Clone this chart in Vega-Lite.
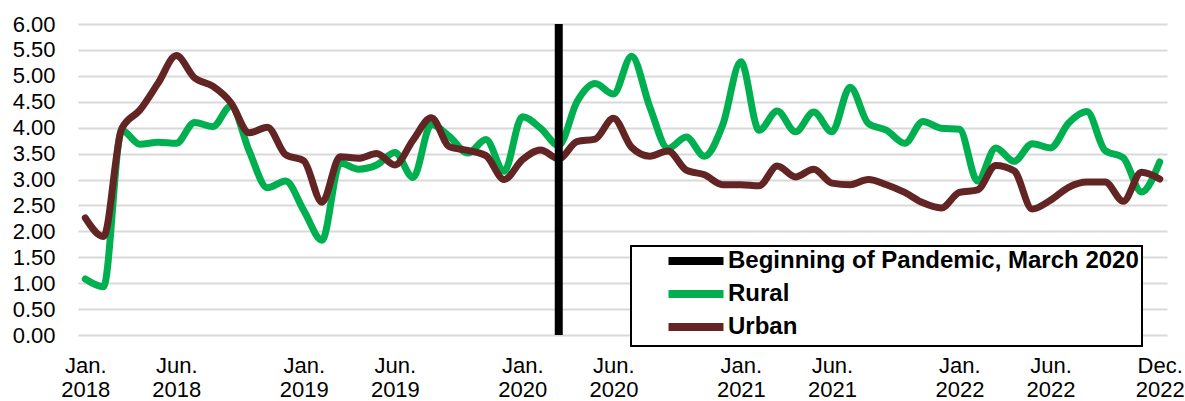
{
  "$schema": "https://vega.github.io/schema/vega-lite/v6.json",
  "width": 1089,
  "height": 311,
  "autosize": "none",
  "padding": {"left": 78, "top": 24, "right": 18, "bottom": 66},
  "background": "white",
  "config": {
    "font": "Liberation Sans",
    "view": {"stroke": null},
    "axis": {"labelFont": "Liberation Sans", "labelColor": "black", "labelFontSize": 22, "ticks": false, "domain": false},
    "legend": {"labelFont": "Liberation Sans"}
  },
  "datasets": {
    "series": [
      {"month": "2018-01", "Rural": 1.08, "Urban": 2.26},
      {"month": "2018-02", "Rural": 0.93, "Urban": 1.90},
      {"month": "2018-03", "Rural": 3.95, "Urban": 3.98},
      {"month": "2018-04", "Rural": 3.68, "Urban": 4.34},
      {"month": "2018-05", "Rural": 3.72, "Urban": 4.86},
      {"month": "2018-06", "Rural": 3.70, "Urban": 5.39},
      {"month": "2018-07", "Rural": 4.10, "Urban": 4.96},
      {"month": "2018-08", "Rural": 4.02, "Urban": 4.80},
      {"month": "2018-09", "Rural": 4.42, "Urban": 4.48},
      {"month": "2018-10", "Rural": 3.55, "Urban": 3.90},
      {"month": "2018-11", "Rural": 2.84, "Urban": 4.01},
      {"month": "2018-12", "Rural": 2.97, "Urban": 3.48},
      {"month": "2019-01", "Rural": 2.40, "Urban": 3.36},
      {"month": "2019-02", "Rural": 1.83, "Urban": 2.56},
      {"month": "2019-03", "Rural": 3.32, "Urban": 3.44},
      {"month": "2019-04", "Rural": 3.20, "Urban": 3.41},
      {"month": "2019-05", "Rural": 3.28, "Urban": 3.50},
      {"month": "2019-06", "Rural": 3.52, "Urban": 3.28},
      {"month": "2019-07", "Rural": 3.04, "Urban": 3.76},
      {"month": "2019-08", "Rural": 4.06, "Urban": 4.19},
      {"month": "2019-09", "Rural": 3.83, "Urban": 3.63},
      {"month": "2019-10", "Rural": 3.51, "Urban": 3.56},
      {"month": "2019-11", "Rural": 3.77, "Urban": 3.46},
      {"month": "2019-12", "Rural": 3.16, "Urban": 3.00},
      {"month": "2020-01", "Rural": 4.21, "Urban": 3.38},
      {"month": "2020-02", "Rural": 3.99, "Urban": 3.57},
      {"month": "2020-03", "Rural": 3.66, "Urban": 3.40},
      {"month": "2020-04", "Rural": 4.50, "Urban": 3.73},
      {"month": "2020-05", "Rural": 4.85, "Urban": 3.78},
      {"month": "2020-06", "Rural": 4.65, "Urban": 4.18},
      {"month": "2020-07", "Rural": 5.38, "Urban": 3.62},
      {"month": "2020-08", "Rural": 4.40, "Urban": 3.45},
      {"month": "2020-09", "Rural": 3.60, "Urban": 3.55},
      {"month": "2020-10", "Rural": 3.82, "Urban": 3.18},
      {"month": "2020-11", "Rural": 3.45, "Urban": 3.09},
      {"month": "2020-12", "Rural": 4.05, "Urban": 2.90},
      {"month": "2021-01", "Rural": 5.27, "Urban": 2.90},
      {"month": "2021-02", "Rural": 3.95, "Urban": 2.88},
      {"month": "2021-03", "Rural": 4.32, "Urban": 3.26},
      {"month": "2021-04", "Rural": 3.92, "Urban": 3.05},
      {"month": "2021-05", "Rural": 4.30, "Urban": 3.20},
      {"month": "2021-06", "Rural": 3.92, "Urban": 2.93},
      {"month": "2021-07", "Rural": 4.78, "Urban": 2.90},
      {"month": "2021-08", "Rural": 4.08, "Urban": 3.00},
      {"month": "2021-09", "Rural": 3.95, "Urban": 2.90},
      {"month": "2021-10", "Rural": 3.70, "Urban": 2.75},
      {"month": "2021-11", "Rural": 4.12, "Urban": 2.55},
      {"month": "2021-12", "Rural": 3.99, "Urban": 2.45},
      {"month": "2022-01", "Rural": 3.97, "Urban": 2.75},
      {"month": "2022-02", "Rural": 2.97, "Urban": 2.80},
      {"month": "2022-03", "Rural": 3.61, "Urban": 3.27},
      {"month": "2022-04", "Rural": 3.35, "Urban": 3.17},
      {"month": "2022-05", "Rural": 3.69, "Urban": 2.43},
      {"month": "2022-06", "Rural": 3.61, "Urban": 2.60},
      {"month": "2022-07", "Rural": 4.09, "Urban": 2.85},
      {"month": "2022-08", "Rural": 4.31, "Urban": 2.95},
      {"month": "2022-09", "Rural": 3.56, "Urban": 2.95},
      {"month": "2022-10", "Rural": 3.42, "Urban": 2.58},
      {"month": "2022-11", "Rural": 2.76, "Urban": 3.14},
      {"month": "2022-12", "Rural": 3.34, "Urban": 3.01}
    ],
    "event": [
      {"month": "2020-03", "label": "Beginning of Pandemic, March 2020"}
    ]
  },
  "encoding": {
    "x": {
      "field": "month",
      "type": "ordinal",
      "scale": {"type": "point", "padding": 0.4},
      "axis": {
        "title": null,
        "labelAngle": 0,
        "labelPadding": 20,
        "labelLineHeight": 24,
        "grid": false,
        "values": ["2018-01", "2018-06", "2019-01", "2019-06", "2020-01", "2020-06", "2021-01", "2021-06", "2022-01", "2022-06", "2022-12"],
        "labelExpr": "[(slice(datum.value,5)=='01') ? 'Jan.' : ((slice(datum.value,5)=='06') ? 'Jun.' : 'Dec.'), slice(datum.value,0,4)]"
      }
    }
  },
  "layer": [
    {
      "data": {"name": "series"},
      "transform": [{"fold": ["Rural", "Urban"], "as": ["series", "value"]}],
      "mark": {"type": "line", "strokeWidth": 7, "strokeCap": "round", "strokeJoin": "round", "interpolate": "monotone"},
      "encoding": {
        "y": {
          "field": "value",
          "type": "quantitative",
          "scale": {"domain": [0, 6], "nice": false},
          "axis": {
            "title": null,
            "values": [0, 0.5, 1, 1.5, 2, 2.5, 3, 3.5, 4, 4.5, 5, 5.5, 6],
            "format": ".2f",
            "labelPadding": 23,
            "gridColor": "#D9D9D9",
            "gridWidth": 2
          }
        },
        "color": {
          "field": "series",
          "type": "nominal",
          "scale": {
            "domain": ["Beginning of Pandemic, March 2020", "Rural", "Urban"],
            "range": ["#000000", "#00B050", "#632523"]
          },
          "legend": {
            "title": null,
            "orient": "none",
            "legendX": 553,
            "legendY": 222,
            "direction": "vertical",
            "padding": 3,
            "fillColor": "white",
            "strokeColor": "black",
            "symbolType": "M-4,0H4",
            "symbolSize": 189,
            "symbolStrokeWidth": 8,
            "symbolOffset": 50,
            "labelFontSize": 24,
            "labelFontWeight": "bold",
            "labelColor": "black",
            "labelOffset": 20,
            "labelLimit": 0,
            "rowPadding": 1,
            "encode": {"legend": {"update": {"strokeWidth": {"value": 2}}}}
          }
        }
      }
    },
    {
      "data": {"name": "event"},
      "mark": {"type": "rule", "strokeWidth": 8, "strokeCap": "butt"},
      "encoding": {
        "color": {"field": "label", "type": "nominal"}
      }
    }
  ]
}
